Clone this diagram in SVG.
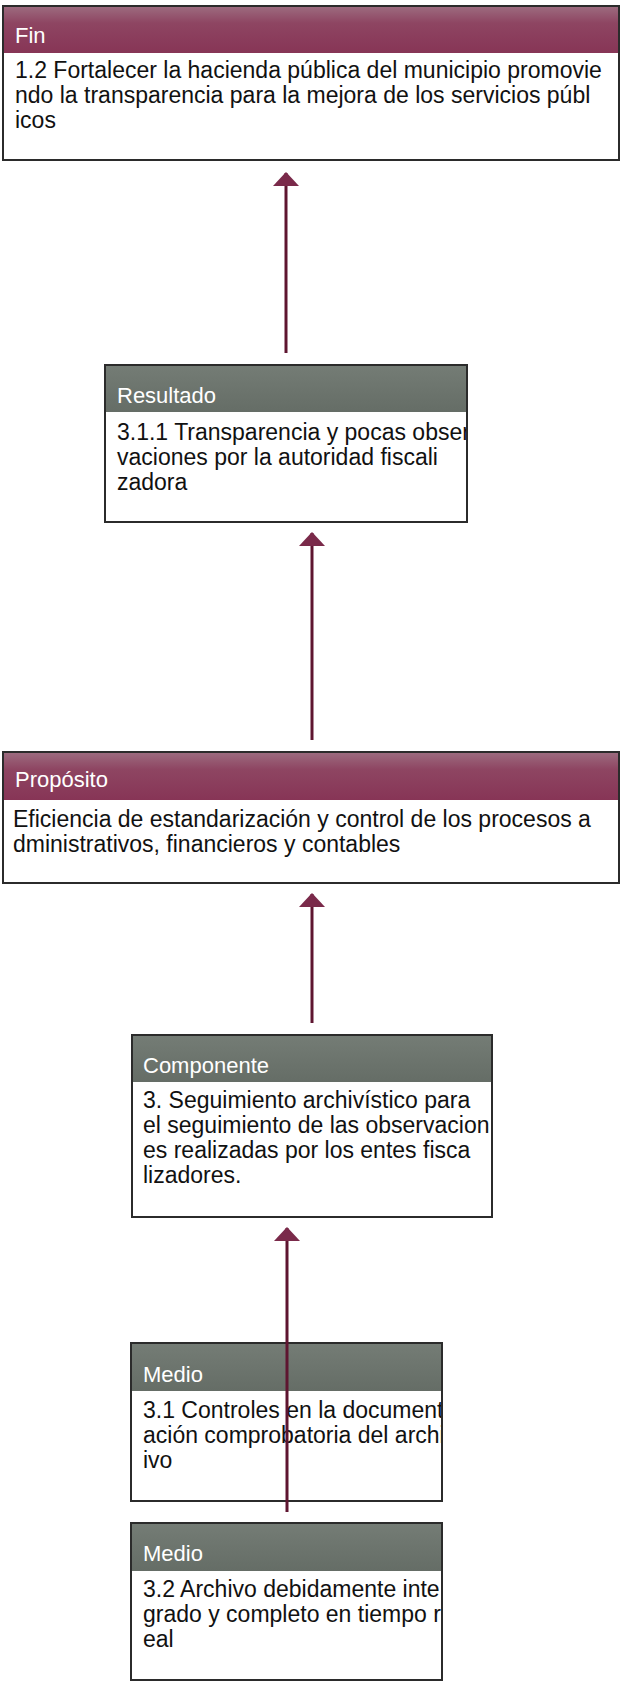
<svg xmlns="http://www.w3.org/2000/svg" width="621" height="1682" viewBox="0 0 621 1682">
<style>
.box{fill:#ffffff;stroke:#2b2b2b;stroke-width:2}
.hm{fill:url(#gm)}
.hg{fill:url(#gg)}
.ht{font-family:"Liberation Sans",Arial,sans-serif;font-size:22px;fill:#ffffff}
.bt{font-family:"Liberation Sans",Arial,sans-serif;font-size:23px;fill:#111111}
.conn{stroke:#5e1530;stroke-width:3;fill:none}
</style>
<defs>
<linearGradient id="gm" x1="0" y1="0" x2="0" y2="1">
<stop offset="0" stop-color="#9c6a7e"/>
<stop offset="0.35" stop-color="#8e4562"/>
<stop offset="1" stop-color="#873556"/>
</linearGradient>
<linearGradient id="gg" x1="0" y1="0" x2="0" y2="1">
<stop offset="0" stop-color="#747c75"/>
<stop offset="1" stop-color="#656d66"/>
</linearGradient>
<marker id="ah" markerUnits="userSpaceOnUse" markerWidth="14" markerHeight="26" refX="13" refY="13" orient="auto" viewBox="0 0 14 26">
<path d="M0,0 L14,13 L0,26 Z" fill="#7a2a4a"/>
</marker>
<clipPath id="cRes"><rect x="105" y="365" width="361" height="157"/></clipPath>
<clipPath id="cCom"><rect x="132" y="1035" width="359" height="182"/></clipPath>
<clipPath id="cM1"><rect x="131" y="1343" width="310" height="158"/></clipPath>
<clipPath id="cM2"><rect x="131" y="1523" width="310" height="157"/></clipPath>
</defs>

<g id="fin">
<rect class="box" x="3" y="6" width="616" height="154"/>
<rect class="hm" x="4" y="7" width="614" height="46"/>
<text class="ht" x="15" y="43">Fin</text>
<text class="bt" x="15" y="78">1.2 Fortalecer la hacienda pública del municipio promovie</text>
<text class="bt" x="15" y="103">ndo la transparencia para la mejora de los servicios públ</text>
<text class="bt" x="15" y="128">icos</text>
</g>

<g id="resultado">
<rect class="box" x="105" y="365" width="362" height="157"/>
<rect class="hg" x="106" y="366" width="360" height="46"/>
<text class="ht" x="117" y="403">Resultado</text>
<g clip-path="url(#cRes)">
<text class="bt" x="117" y="440">3.1.1 Transparencia y pocas obser</text>
<text class="bt" x="117" y="465">vaciones por la autoridad fiscali</text>
<text class="bt" x="117" y="490">zadora</text>
</g>
</g>

<g id="proposito">
<rect class="box" x="3" y="752" width="616" height="131"/>
<rect class="hm" x="4" y="753" width="614" height="47"/>
<text class="ht" x="15" y="787">Propósito</text>
<text class="bt" x="13" y="827">Eficiencia de estandarización y control de los procesos a</text>
<text class="bt" x="13" y="852">dministrativos, financieros y contables</text>
</g>

<g id="componente">
<rect class="box" x="132" y="1035" width="360" height="182"/>
<rect class="hg" x="133" y="1036" width="358" height="46"/>
<text class="ht" x="143" y="1073">Componente</text>
<g clip-path="url(#cCom)">
<text class="bt" x="143" y="1108">3. Seguimiento archivístico para</text>
<text class="bt" x="143" y="1133">el seguimiento de las observacion</text>
<text class="bt" x="143" y="1158">es realizadas por los entes fisca</text>
<text class="bt" x="143" y="1183">lizadores.</text>
</g>
</g>

<g id="medio1">
<rect class="box" x="131" y="1343" width="311" height="158"/>
<rect class="hg" x="132" y="1344" width="309" height="47"/>
<text class="ht" x="143" y="1382">Medio</text>
<g clip-path="url(#cM1)">
<text class="bt" x="143" y="1418">3.1 Controles en la document</text>
<text class="bt" x="143" y="1443">ación comprobatoria del archi</text>
<text class="bt" x="143" y="1468">ivo</text>
</g>
</g>

<g id="medio2">
<rect class="box" x="131" y="1523" width="311" height="157"/>
<rect class="hg" x="132" y="1524" width="309" height="47"/>
<text class="ht" x="143" y="1561">Medio</text>
<g clip-path="url(#cM2)">
<text class="bt" x="143" y="1597">3.2 Archivo debidamente inte</text>
<text class="bt" x="143" y="1622">grado y completo en tiempo r</text>
<text class="bt" x="143" y="1647">eal</text>
</g>
</g>

<g id="connectors">
<line class="conn" x1="286" y1="353" x2="286" y2="173" marker-end="url(#ah)"/>
<line class="conn" x1="312" y1="740" x2="312" y2="533" marker-end="url(#ah)"/>
<line class="conn" x1="312" y1="1023" x2="312" y2="894" marker-end="url(#ah)"/>
<line class="conn" x1="287" y1="1512" x2="287" y2="1228" marker-end="url(#ah)"/>
</g>
</svg>
